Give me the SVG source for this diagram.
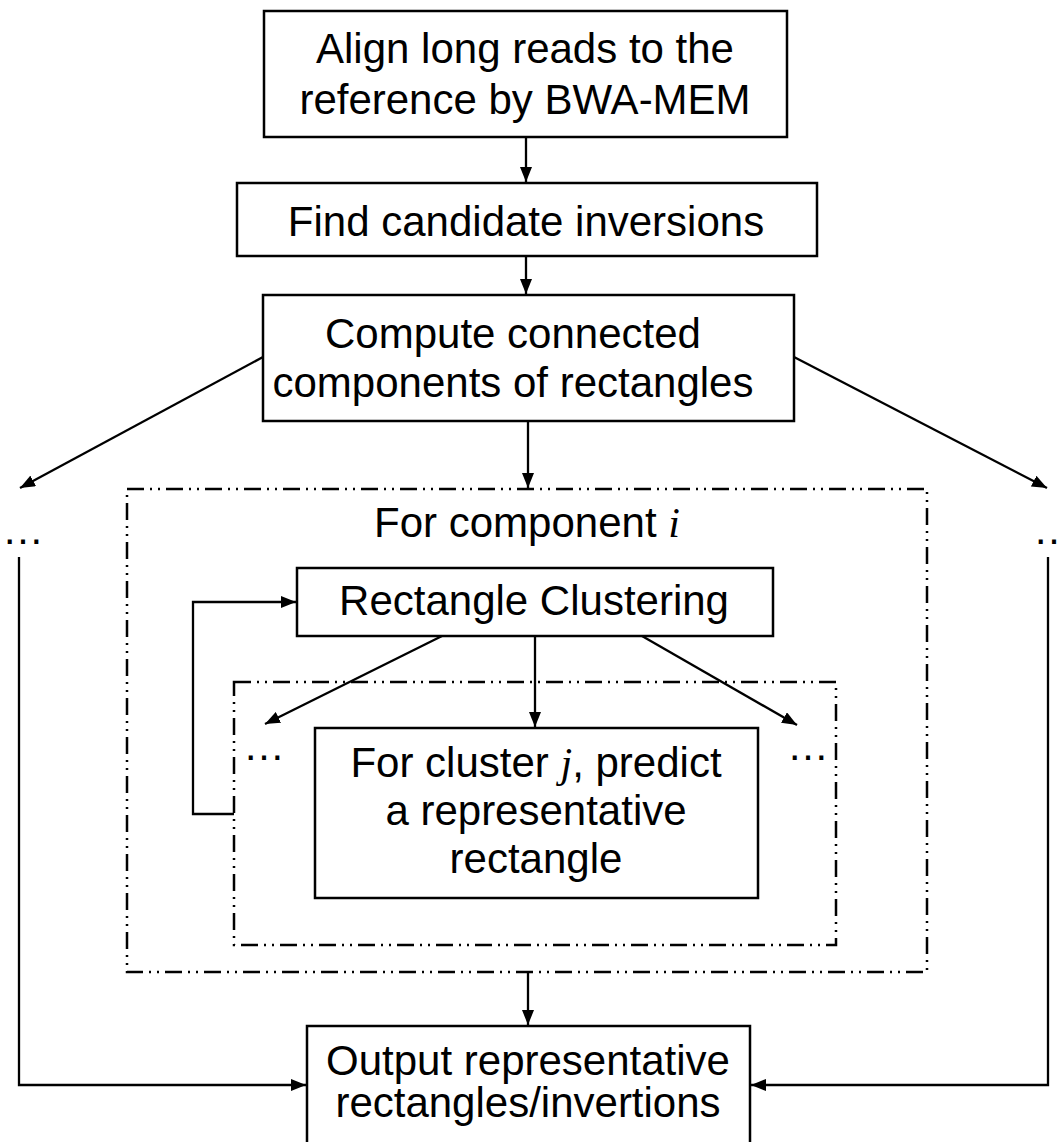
<svg xmlns="http://www.w3.org/2000/svg" width="1061" height="1142" viewBox="0 0 1061 1142">
<defs>
<marker id="ah" viewBox="0 0 15 12" refX="15" refY="6" markerWidth="15" markerHeight="12" markerUnits="userSpaceOnUse" orient="auto">
<path d="M0,0 L15,6 L0,12 Z" fill="#000"/>
</marker>
<style>
.box{fill:#fff;stroke:#000;stroke-width:2.5}
.dd{fill:none;stroke:#000;stroke-width:2.5;stroke-dasharray:17 6 2 6 2 6}
.t{font-family:"Liberation Sans",Arial,sans-serif;font-size:42px;fill:#000;text-anchor:middle}
.m{font-family:"Liberation Serif","Times New Roman",serif;font-style:italic}
.c{fill:none;stroke:#000;stroke-width:2.3}
</style>
</defs>
<rect width="1061" height="1142" fill="#fff"/>
<g id="frame-component">
<rect class="dd" x="127" y="489" width="800" height="483"/>
<text class="t" x="527" y="537">For component <tspan class="m">i</tspan></text>
</g>
<g id="frame-cluster">
<rect class="dd" x="234" y="682" width="602" height="263"/>
</g>
<g id="connectors">
<line class="c" x1="526" y1="137" x2="526" y2="182" marker-end="url(#ah)"/>
<line class="c" x1="526" y1="256" x2="526" y2="294" marker-end="url(#ah)"/>
<line class="c" x1="528" y1="421" x2="528" y2="488" marker-end="url(#ah)"/>
<line class="c" x1="263" y1="357" x2="20" y2="488" marker-end="url(#ah)"/>
<line class="c" x1="794" y1="357" x2="1047" y2="488" marker-end="url(#ah)"/>
<polyline class="c" points="234,814 193,814 193,602 296,602" marker-end="url(#ah)"/>
<line class="c" x1="442" y1="636" x2="265" y2="724" marker-end="url(#ah)"/>
<line class="c" x1="535" y1="636" x2="535" y2="727" marker-end="url(#ah)"/>
<line class="c" x1="642" y1="636" x2="797" y2="725" marker-end="url(#ah)"/>
<line class="c" x1="528" y1="972" x2="528" y2="1025" marker-end="url(#ah)"/>
<polyline class="c" points="19,557 19,1085 306,1085" marker-end="url(#ah)"/>
<polyline class="c" points="1048,557 1048,1085 751,1085" marker-end="url(#ah)"/>
</g>
<g id="node-align">
<rect class="box" x="264" y="11" width="523" height="126"/>
<text class="t" x="525" y="63">Align long reads to the</text>
<text class="t" x="525" y="114">reference by BWA-MEM</text>
</g>
<g id="node-find">
<rect class="box" x="237" y="183" width="580" height="73"/>
<text class="t" x="526" y="236">Find candidate inversions</text>
</g>
<g id="node-compute">
<rect class="box" x="263" y="295" width="531" height="126"/>
<text class="t" x="513" y="348">Compute connected</text>
<text class="t" x="513" y="397">components of rectangles</text>
</g>
<g id="dots-left"><text class="t" x="23" y="544">…</text></g>
<g id="dots-right"><text class="t" x="1054" y="544">…</text></g>
<g id="node-clustering">
<rect class="box" x="297" y="568" width="476" height="68"/>
<text class="t" x="534" y="615">Rectangle Clustering</text>
</g>
<g id="dots-inner-left"><text class="t" x="264" y="760">…</text></g>
<g id="dots-inner-right"><text class="t" x="808" y="760">…</text></g>
<g id="node-cluster">
<rect class="box" x="315" y="728" width="443" height="170"/>
<text class="t" x="536" y="777">For cluster <tspan class="m">j</tspan>, predict</text>
<text class="t" x="536" y="825">a representative</text>
<text class="t" x="536" y="873">rectangle</text>
</g>
<g id="node-output">
<rect class="box" x="307" y="1026" width="443" height="130"/>
<text class="t" x="528" y="1075">Output representative</text>
<text class="t" x="528" y="1117">rectangles/invertions</text>
</g>
</svg>
